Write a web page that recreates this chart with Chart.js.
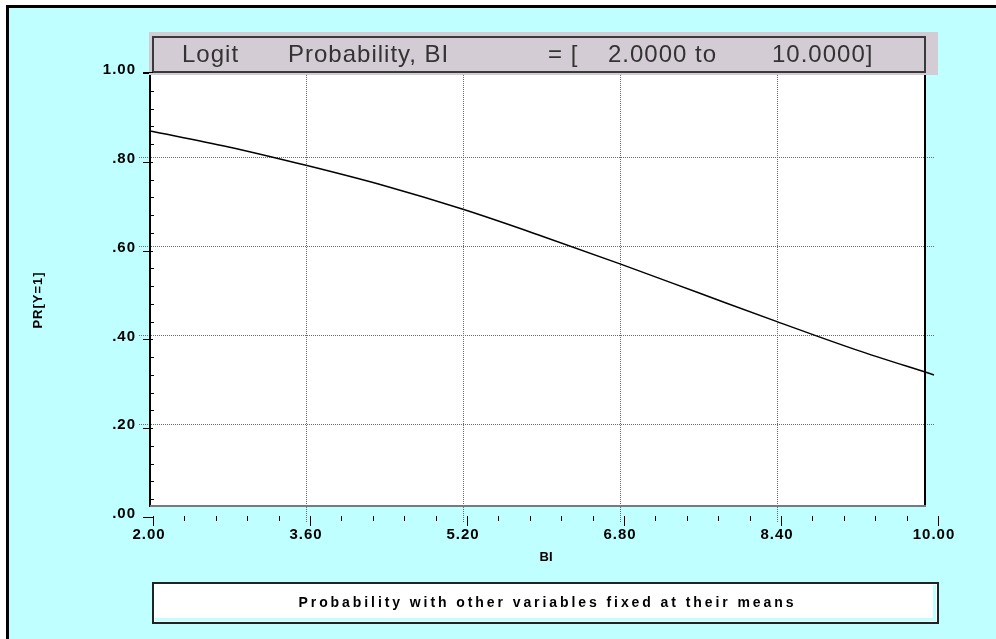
<!DOCTYPE html>
<html>
<head>
<meta charset="utf-8">
<script src="https://cdn.jsdelivr.net/npm/chart.js@4.4.0/dist/chart.umd.min.js"></script>
<style>
html, body { margin: 0; padding: 0; background: #fff; overflow: hidden; }
canvas { display: block; }
</style>
</head>
<body>
<canvas id="c" width="996" height="639"></canvas>
<script>
// values
const biValues = [2.0, 2.8, 3.6, 4.4, 5.2, 6.0, 6.8, 7.6, 8.4, 9.2, 10.0];
const prValues = [0.861, 0.825, 0.783, 0.737, 0.684, 0.624, 0.561, 0.496, 0.431, 0.368, 0.311];

const xTicks = [2.0, 3.6, 5.2, 6.8, 8.4, 10.0];
const xTickLabels = ['2.00', '3.60', '5.20', '6.80', '8.40', '10.00'];
const yTicks = [0, 0.2, 0.4, 0.6, 0.8, 1.0];
const yTickLabels = ['.00', '.20', '.40', '.60', '.80', '1.00'];

const titleParts = ['Logit', 'Probability, BI', '= [', '2.0000 to', '10.0000]'];
const titleX = [182, 288, 548, 608, 772];
const xTitle = 'BI';
const yTitle = 'PR[Y=1]';
const legendText = 'Probability with other variables fixed at their means';

const FONT = '"Liberation Sans", Arial, sans-serif';
const CYAN = '#c0ffff';

const decor = {
    id: 'decor',
    beforeDraw(chart) {
        const ctx = chart.ctx;
        ctx.save();
        ctx.fillStyle = '#fff';
        ctx.fillRect(0, 0, 996, 639);
        ctx.fillStyle = CYAN;
        ctx.fillRect(6, 5, 990, 634);
        ctx.fillStyle = '#000';
        ctx.fillRect(6, 5, 3, 634);
        ctx.fillRect(6, 5, 990, 3);
        // plot box
        ctx.fillStyle = '#fff';
        ctx.fillRect(150, 71, 775, 435);
        ctx.restore();
    },
    afterDatasetsDraw(chart) {
        const ctx = chart.ctx;
        const xs = chart.scales.x, ys = chart.scales.y;
        ctx.save();

        // box borders
        ctx.fillStyle = '#000';
        ctx.fillRect(149, 71, 2, 436);
        ctx.fillRect(924, 71, 2, 436);
        ctx.fillStyle = '#7a7a7a';
        ctx.fillRect(150, 505, 776, 2);

        // axis tick marks (sit 4px off the grid, like the original)
        ctx.strokeStyle = '#000';
        ctx.lineWidth = 1;
        ctx.beginPath();
        for (let i = 0; i <= 25; i++) {
            const y = Math.round(ys.getPixelForValue(i * 0.04)) + 4.5;
            if (i % 5 === 0) { ctx.moveTo(143, y); ctx.lineTo(153, y); }
            else { ctx.moveTo(150, y); ctx.lineTo(154, y); }
        }
        for (let i = 0; i <= 25; i++) {
            const x = Math.round(xs.getPixelForValue(2 + i * 0.32)) + 4.5;
            if (i % 5 === 0) { ctx.moveTo(x, 516); ctx.lineTo(x, 526); }
            else { ctx.moveTo(x, 516); ctx.lineTo(x, 521); }
        }
        ctx.stroke();

        // tick labels
        ctx.fillStyle = '#000';
        ctx.font = 'bold 15px ' + FONT;
        ctx.letterSpacing = '1px';
        ctx.textBaseline = 'middle';
        ctx.textAlign = 'right';
        yTicks.forEach((v, i) => {
            ctx.fillText(yTickLabels[i], 136, ys.getPixelForValue(v) + 1);
        });
        ctx.textAlign = 'center';
        xTicks.forEach((v, i) => {
            ctx.fillText(xTickLabels[i], xs.getPixelForValue(v), 535);
        });

        // axis titles
        ctx.font = 'bold 13px ' + FONT;
        ctx.letterSpacing = '0px';
        ctx.fillText(xTitle, 546, 557);
        ctx.save();
        ctx.translate(38, 300);
        ctx.rotate(-Math.PI / 2);
        ctx.letterSpacing = '1px';
        ctx.fillText(yTitle, 0, 0);
        ctx.restore();

        // title box
        ctx.fillStyle = '#d4ccd4';
        ctx.fillRect(149, 32, 789, 43);
        ctx.strokeStyle = '#3a3a3a';
        ctx.lineWidth = 2;
        ctx.strokeRect(153, 37, 772, 35);
        ctx.fillStyle = '#000';
        ctx.fillRect(143, 72, 10, 1);
        ctx.fillStyle = '#333';
        ctx.font = '24px ' + FONT;
        ctx.letterSpacing = '1px';
        ctx.textAlign = 'left';
        titleParts.forEach((t, i) => ctx.fillText(t, titleX[i], 55));

        // legend box
        ctx.fillStyle = '#fff';
        ctx.fillRect(153, 583, 785, 40);
        ctx.fillStyle = CYAN;
        ctx.fillRect(933, 585, 3, 36);
        ctx.fillRect(155, 618, 781, 3);
        ctx.strokeStyle = '#222';
        ctx.lineWidth = 2;
        ctx.strokeRect(153, 583, 785, 40);
        ctx.fillStyle = '#000';
        ctx.font = 'bold 14px ' + FONT;
        ctx.letterSpacing = '0px';
        const w0 = ctx.measureText(legendText).width;
        const target = 495;
        ctx.letterSpacing = ((target - w0) / (legendText.length - 1)) + 'px';
        ctx.textAlign = 'left';
        ctx.fillText(legendText, 546 - target / 2, 603);
        ctx.restore();
    }
};

const gridColor = (ends) => (c) => (c.tick && ends.includes(c.tick.value)) ? 'rgba(0,0,0,0)' : '#6a6a6a';

new Chart(document.getElementById('c'), {
    type: 'line',
    data: {
        datasets: [{
            data: biValues.map((x, i) => ({ x: x, y: prValues[i] })),
            borderColor: '#000',
            borderWidth: 1.5,
            pointRadius: 0,
            fill: false,
            cubicInterpolationMode: 'monotone',
            clip: false
        }]
    },
    options: {
        responsive: false,
        animation: false,
        events: [],
        layout: { padding: { left: 139, right: 62, top: 69, bottom: 116 } },
        plugins: { legend: { display: false }, title: { display: false }, tooltip: { enabled: false } },
        scales: {
            x: {
                type: 'linear',
                min: 2, max: 10,
                afterFit: (s) => { s.height = 10; },
                ticks: { display: false, stepSize: 1.6 },
                border: { display: false, dash: [1, 1] },
                grid: { color: gridColor([2, 10]), lineWidth: 1, drawTicks: true, tickLength: 10, tickBorderDash: [1, 1] }
            },
            y: {
                min: 0, max: 1,
                afterFit: (s) => { s.width = 10; },
                ticks: { display: false, stepSize: 0.2 },
                border: { display: false, dash: [1, 1] },
                grid: { color: gridColor([0, 1]), lineWidth: 1, drawTicks: true, tickLength: 10, tickBorderDash: [1, 1] }
            }
        }
    },
    plugins: [decor]
});
</script>
</body>
</html>
